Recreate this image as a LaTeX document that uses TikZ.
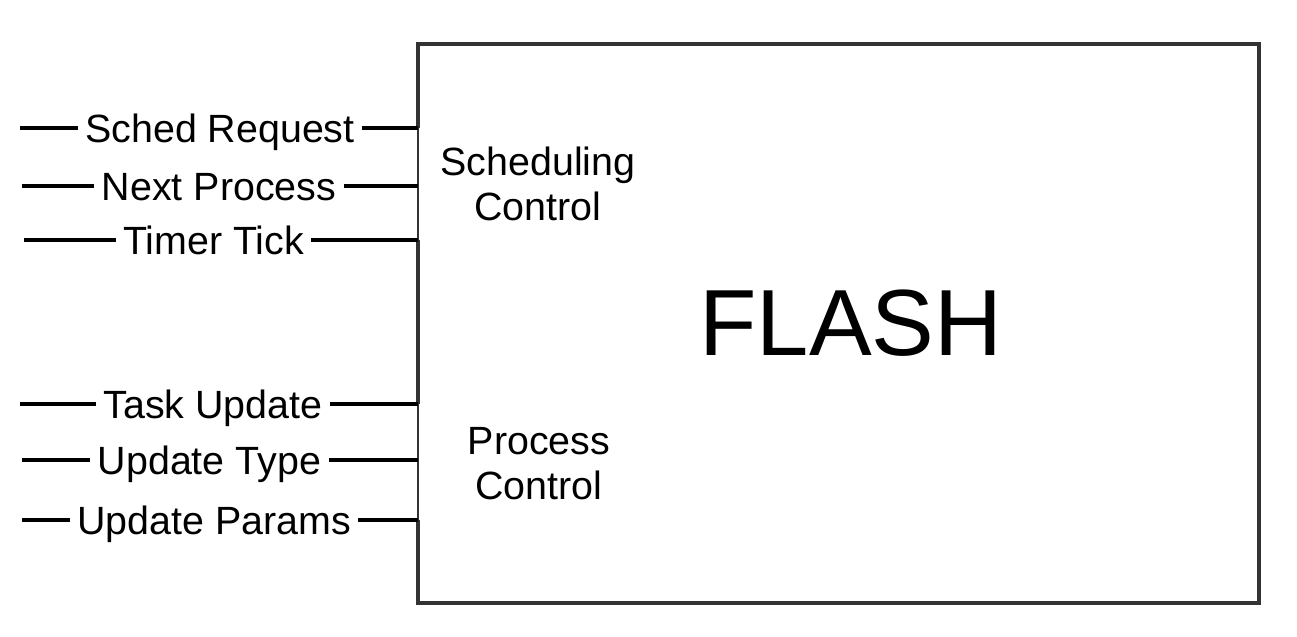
\documentclass[tikz,border=0pt]{standalone}
\usepackage{fontspec}
\setmainfont{Liberation Sans}
\definecolor{edgegray}{HTML}{333333}

\begin{document}
\begin{tikzpicture}[x=0.5pt,y=-0.5pt,
   sig/.style={font=\fontsize{19.7}{22.5}\selectfont,text height=14pt,text depth=0pt,inner xsep=3.5pt,inner ysep=0pt},
   part/.style={font=\fontsize{19.7}{22.5}\selectfont,align=center,inner sep=0pt},
   wire/.style={line width=1.7pt,draw=black},
   frame/.style={line width=2pt,draw=edgegray},
   port/.style={line width=1pt,draw=edgegray}]
   \useasboundingbox (0,0) rectangle (1297,637);
   % block outline, open where the port bars sit
   \draw[frame] (418,128) -- (418,44) -- (1259,44) -- (1259,603) -- (418,603) -- (418,520);
   \draw[frame] (418,240) -- (418,404);
   \node[font=\fontsize{47}{56}\selectfont,inner sep=0pt] (flash) at (851,323) {FLASH};
   \node[part] (sched) at (538,184) {Scheduling\\Control};
   \node[part] (proc) at (539,464) {Process\\Control};
   % scheduling signals
   \node[sig] (sr) at (220,128) {Sched Request};
   \node[sig] (np) at (219,186) {Next Process};
   \node[sig] (tt) at (213.5,240) {Timer Tick};
   \coordinate (sr-in) at (20,128);
   \coordinate (np-in) at (22,186);
   \coordinate (tt-in) at (24,240);
   \coordinate (sr-p) at (418,128);
   \coordinate (np-p) at (418,186);
   \coordinate (tt-p) at (418,240);
   % process signals
   \node[sig] (tu) at (213,404) {Task Update};
   \node[sig] (ut) at (209.5,460) {Update Type};
   \node[sig] (up) at (214,520) {Update Params};
   \coordinate (tu-in) at (20,404);
   \coordinate (ut-in) at (22,460);
   \coordinate (up-in) at (22,520);
   \coordinate (tu-p) at (418,404);
   \coordinate (ut-p) at (418,460);
   \coordinate (up-p) at (418,520);
   \draw[port] (sr-p) -- (tt-p);
   \draw[port] (tu-p) -- (up-p);
    \path[wire]
    (sr-in) edge (sr) (sr) edge (sr-p)
    (np-in) edge (np) (np) edge (np-p)
    (tt-in) edge (tt) (tt) edge (tt-p)
    (tu-in) edge (tu) (tu) edge (tu-p)
    (ut-in) edge (ut) (ut) edge (ut-p)
    (up-in) edge (up) (up) edge (up-p);
\end{tikzpicture}
\end{document}
